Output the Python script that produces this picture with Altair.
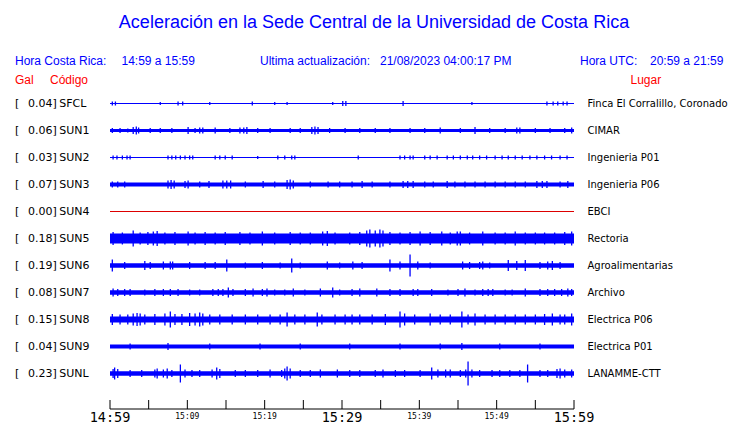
import altair as alt
import pandas as pd

# ---------------- data ----------------
codes = ["SFCL", "SUN1", "SUN2", "SUN3", "SUN4", "SUN5", "SUN6", "SUN7", "SUN8", "SUN9", "SUNL"]
gal = [0.04, 0.06, 0.03, 0.07, 0.00, 0.18, 0.19, 0.08, 0.15, 0.04, 0.23]
places = ["Finca El Corralillo, Coronado", "CIMAR", "Ingenieria P01", "Ingenieria P06", "EBCI",
          "Rectoria", "Agroalimentarias", "Archivo", "Electrica P06", "Electrica P01", "LANAMME-CTT"]
# steady half-thickness of each trace (display px)
base_amp = [0.5, 1.6, 0.5, 2.0, 0.5, 5.0, 2.2, 2.2, 3.0, 2.0, 2.2]

# bursts: minutes after 14:59 and half-amplitude (display px)
ev_SFCL_t = [0.3, 0.7, 6.5, 8.8, 9.4, 12.9, 18.4, 21.3, 22.9, 28.8, 30.1, 30.5, 37.9, 46.8, 56.5, 57.3, 57.9, 58.6, 59.1]
ev_SFCL_a = [2, 2, 1.5, 2, 2, 1.5, 2, 1.5, 1.5, 1.5, 2.5, 2.5, 2.5, 1.5, 2, 2, 2, 2, 2]

ev_SUN1_t = [0.3, 1.3, 2.3, 3.0, 3.4, 3.7, 5.2, 6.5, 8.0, 10.1, 11.0, 11.6, 12.0, 13.6, 15.5, 16.8, 17.3, 17.7,
             19.1, 20.7, 23.3, 24.6, 26.1, 26.5, 26.9, 28.4, 30.4, 32.3, 34.3, 36.2, 38.8, 40.7, 42.7, 45.3,
             47.2, 49.1, 51.1, 52.6, 53.0, 55.0, 56.9, 58.8, 59.7]
ev_SUN1_a = [2.5, 2.5, 2, 3.5, 4, 3, 2.5, 2.5, 2.5, 3.5, 2.5, 3, 3, 3, 2.5, 3, 3, 3.5,
             2.5, 2.5, 2.5, 2.5, 3.5, 4, 3.5, 2.5, 2.5, 2.5, 2.5, 2.5, 2.5, 2.5, 3, 2.5,
             3.5, 2.5, 2.5, 3, 3, 2.5, 2.5, 2.5, 3]

ev_SUN2_t = [0.4, 0.9, 1.6, 2.2, 2.6, 7.5, 8.0, 8.5, 9.1, 9.7, 10.3, 10.7, 13.6, 14.2, 14.9, 15.8, 19.1, 21.7,
             22.6, 23.5, 23.9, 32.1, 37.5, 38.1, 38.8, 39.2, 40.7, 41.4, 42.3, 43.6, 44.4, 45.3, 46.2, 46.9,
             47.8, 48.7, 49.8, 50.7, 51.5, 52.4, 53.3, 54.3, 55.2, 56.2, 57.1, 58.2, 59.1]
ev_SUN2_a = [2] * 16 + [1.5] + [2] * 30

ev_SUN3_t = [0.3, 1.0, 1.9, 7.5, 7.9, 8.3, 9.7, 10.1, 11.6, 12.8, 14.6, 15.1, 15.6, 17.5, 19.8, 21.3, 22.9,
             23.3, 23.7, 25.9, 28.2, 29.7, 31.3, 32.6, 33.9, 36.2, 37.9, 38.5, 39.2, 40.7, 41.8, 43.6, 44.6,
             45.9, 47.2, 48.5, 49.8, 51.1, 52.4, 53.7, 55.2, 55.9, 56.5, 58.2, 59.2]
ev_SUN3_a = [3, 3, 3, 4, 4.5, 4, 3.5, 4, 3, 3.5, 4, 4, 4, 3, 3.5, 3, 4.5,
             5, 4, 3, 3, 3, 3, 3.5, 3, 3, 3.5, 3.5, 3.5, 3, 3, 3.5, 3,
             3, 3, 3, 3, 3, 3, 3, 3.5, 3.5, 3.5, 3, 3.5]

ev_SUN4_t = []
ev_SUN4_a = []

ev_SUN5_t = [0.4, 1.6, 3.0, 3.9, 4.9, 5.6, 6.1, 7.1, 8.4, 10.1, 11.0, 12.3, 13.6, 14.9, 16.8, 18.1, 19.7,
             21.3, 23.3, 24.6, 25.9, 27.5, 28.1, 29.1, 31.0, 32.3, 33.2, 33.6, 34.3, 34.9, 35.3, 36.2, 37.5,
             38.8, 40.1, 41.4, 42.9, 44.0, 44.9, 45.3, 46.5, 48.2, 49.8, 51.1, 52.4, 53.7, 55.0, 56.2, 57.5,
             58.8, 59.7]
ev_SUN5_a = [6.5, 6, 8, 6, 6.5, 7, 7.5, 6, 6.5, 7, 6, 6.5, 6, 6.5, 6.5, 6, 7,
             6, 6.5, 6, 6, 7, 7.5, 6, 6, 6.5, 8, 9, 8, 9, 8, 6.5, 6,
             6.5, 7, 6.5, 7, 6, 7, 7, 6, 7, 6, 6, 7, 6, 6, 6, 6,
             6.5, 7]

ev_SUN6_t = [0.3, 1.9, 4.5, 5.2, 6.9, 7.8, 8.1, 10.3, 12.3, 13.6, 15.1, 17.5, 19.7, 22.0, 23.5, 24.6, 28.1,
             29.7, 31.4, 32.6, 36.2, 37.5, 38.8, 39.8, 41.4, 45.6, 46.5, 47.8, 48.2, 49.1, 51.5, 52.6, 53.7,
             55.6, 56.6, 57.2, 58.2]
ev_SUN6_a = [6, 3.5, 4.5, 3.5, 4, 4, 4, 3.5, 3.5, 3.5, 6, 3, 3.5, 3, 7, 3, 4,
             3, 4, 3.5, 6, 4, 11, 4, 3, 4, 3.5, 3.5, 4, 3, 5.5, 4.5, 5.5,
             3.5, 4, 4.5, 3.5]

ev_SUN7_t = [0.4, 1.0, 1.9, 2.6, 4.5, 5.8, 6.9, 7.8, 8.8, 10.3, 11.6, 13.3, 14.0, 14.6, 15.3, 15.9, 17.5,
             18.5, 19.7, 20.3, 21.3, 22.6, 23.7, 25.2, 27.2, 28.8, 29.7, 31.3, 32.3, 34.5, 36.2, 37.5, 39.2,
             39.8, 41.6, 43.7, 45.0, 45.9, 47.2, 48.2, 48.9, 49.5, 51.1, 52.0, 53.7, 55.6, 56.6, 57.5, 58.4,
             59.2, 59.7]
ev_SUN7_a = [4, 3.5, 3.5, 3.5, 3, 3.5, 3.5, 3.5, 3.5, 3, 3, 3.5, 3.5, 3.5, 5, 3.5, 3.5,
             4, 3.5, 4, 3, 3, 4, 3, 4, 5, 3, 3.5, 4, 4, 3.5, 3.5, 3.5,
             3.5, 3.5, 3, 3.5, 4, 3, 3.5, 3.5, 3.5, 3, 3, 4, 3.5, 3.5, 3.5, 3.5,
             4, 3.5]

ev_SUN8_t = [0.3, 1.3, 2.3, 3.0, 3.5, 3.9, 4.5, 5.8, 7.1, 7.8, 8.4, 9.3, 10.3, 11.0, 11.6, 12.0, 12.9,
             14.2, 15.8, 17.5, 19.1, 20.7, 22.0, 22.9, 23.9, 25.2, 26.8, 27.4, 29.1, 30.4, 31.3, 32.3, 33.9,
             35.6, 37.5, 38.1, 39.4, 41.4, 42.7, 44.0, 45.5, 46.3, 47.2, 48.5, 49.8, 51.1, 52.4, 53.7, 55.0,
             56.2, 57.2, 58.2, 58.8, 59.7]
ev_SUN8_a = [5.5, 5, 5, 6, 6.5, 6, 5, 5.5, 6, 8, 5.5, 5.5, 6.5, 6, 7, 6, 5,
             5, 5, 5, 5, 5, 5, 7, 5, 5, 7, 5, 5, 5, 5, 5, 5,
             5.5, 8, 6, 5, 6, 5, 5, 8, 5, 6, 5, 5, 5, 5, 5, 5,
             5.5, 6, 5, 5, 6]

ev_SUN9_t = [2.6, 7.5, 12.9, 19.4, 24.6, 31.0, 37.5, 42.7, 45.5, 50.4, 55.6]
ev_SUN9_a = [3, 3.5, 3, 3, 3, 3, 3, 3, 3.5, 3, 3]

ev_SUNL_t = [0.4, 0.6, 1.0, 2.6, 4.1, 5.8, 6.1, 6.9, 7.4, 8.0, 9.1, 9.7, 10.6, 11.6, 13.2, 13.8, 14.2,
             16.2, 17.5, 19.1, 20.7, 22.2, 22.6, 22.9, 23.3, 24.6, 25.9, 27.2, 29.4, 31.0, 32.3, 34.3, 35.3,
             36.9, 38.1, 40.1, 41.6, 42.4, 43.4, 44.0, 45.3, 46.0, 46.3, 46.8, 47.8, 49.4, 50.4, 51.7, 53.0,
             54.0, 55.6, 56.6, 57.8, 58.2, 58.8, 59.7]
ev_SUNL_a = [4.5, 6, 4.5, 3.5, 3.5, 4, 5, 4, 5, 3.5, 9, 4, 3.5, 3.5, 4, 6, 4.5,
             3.5, 3.5, 3.5, 4, 3.5, 5, 7, 5, 3.5, 3.5, 4, 4, 3.5, 3.5, 3.5, 4,
             3.5, 3.5, 3.5, 6, 4, 4, 4, 3.5, 4, 12, 4, 3.5, 3.5, 3.5, 3.5, 3.5,
             9, 3.5, 3.5, 4.5, 5, 4, 4]

tick_minutes = [0, 5, 10, 15, 20, 25, 30, 35, 40, 45, 50, 55, 60]
major_minutes = [0, 30, 60]
major_labels = ["14:59", "15:29", "15:59"]
minor_minutes = [10, 20, 40, 50]
minor_labels = ["15:09", "15:19", "15:39", "15:49"]

TITLE = "Aceleración en la Sede Central de la Universidad de Costa Rica"
HEADER_CR = "Hora Costa Rica:"
HEADER_CR_V = "14:59 a 15:59"
HEADER_UPD = "Ultima actualización:"
HEADER_UPD_V = "21/08/2023 04:00:17 PM"
HEADER_UTC = "Hora UTC:"
HEADER_UTC_V = "20:59 a 21:59"

# ---------------- build tables ----------------
SP = 27.0  # display px between traces
events = {
    "SFCL": (ev_SFCL_t, ev_SFCL_a), "SUN1": (ev_SUN1_t, ev_SUN1_a), "SUN2": (ev_SUN2_t, ev_SUN2_a),
    "SUN3": (ev_SUN3_t, ev_SUN3_a), "SUN4": (ev_SUN4_t, ev_SUN4_a), "SUN5": (ev_SUN5_t, ev_SUN5_a),
    "SUN6": (ev_SUN6_t, ev_SUN6_a), "SUN7": (ev_SUN7_t, ev_SUN7_a), "SUN8": (ev_SUN8_t, ev_SUN8_a),
    "SUN9": (ev_SUN9_t, ev_SUN9_a), "SUNL": (ev_SUNL_t, ev_SUNL_a),
}

traces = pd.DataFrame({
    "idx": list(range(len(codes))),
    "code": codes,
    "gal": [f"{g:.2f}]" for g in gal],
    "place": places,
    "t0": 0, "t1": 60,
    "lo": [i - b / SP for i, b in enumerate(base_amp)],
    "hi": [i + b / SP for i, b in enumerate(base_amp)],
})

rows = []
for i, c in enumerate(codes):
    ts, amps = events[c]
    for t, a in zip(ts, amps):
        rows.append({"code": c, "t": t, "lo": i - a / SP, "hi": i + a / SP})
ev = pd.DataFrame(rows)

xs = alt.Scale(domain=[0, 60], range=[102, 566])
ys = alt.Scale(domain=[0, 10], range=[95.5, 365.5])

BLUE = "#0000ff"
RED = "#ff0000"
col = alt.condition(alt.datum.code == "SUN4", alt.value("#dd0000"), alt.value(BLUE))

band = alt.Chart(traces).mark_rect().encode(
    x=alt.X("t0:Q", scale=xs, axis=None), x2="t1",
    y=alt.Y("lo:Q", scale=ys, axis=None), y2="hi",
    color=col,
)
spikes = alt.Chart(ev).mark_rule(strokeWidth=1.3).encode(
    x=alt.X("t:Q", scale=xs, axis=None),
    y=alt.Y("lo:Q", scale=ys, axis=None), y2="hi",
    color=col,
)

lab_font = "DejaVu Sans"
brackets = alt.Chart(traces).mark_text(align="left", baseline="middle", font=lab_font, fontSize=11, color="black").encode(
    y=alt.Y("idx:Q", scale=ys, axis=None), x=alt.value(7), text=alt.value("["))
galtxt = alt.Chart(traces).mark_text(align="right", baseline="middle", font=lab_font, fontSize=11, color="black").encode(
    y=alt.Y("idx:Q", scale=ys, axis=None), x=alt.value(48.8), text="gal:N")
codetxt = alt.Chart(traces).mark_text(align="left", baseline="middle", font=lab_font, fontSize=11, color="black").encode(
    y=alt.Y("idx:Q", scale=ys, axis=None), x=alt.value(51.3), text="code:N")
placetxt = alt.Chart(traces).mark_text(align="left", baseline="middle", font=lab_font, fontSize=10, color="black").encode(
    y=alt.Y("idx:Q", scale=ys, axis=None), x=alt.value(579.5), text="place:N")

# time axis
tk = pd.DataFrame({"t": tick_minutes})
axis_line = alt.Chart(pd.DataFrame({"a": [0], "b": [60]})).mark_rule(color="black", strokeWidth=1).encode(
    x=alt.X("a:Q", scale=xs, axis=None), x2="b", y=alt.value(401))
ticks = alt.Chart(tk).mark_rule(color="black", strokeWidth=1).encode(
    x=alt.X("t:Q", scale=xs, axis=None), y=alt.value(392), y2=alt.value(401))
major = alt.Chart(pd.DataFrame({"t": major_minutes, "l": major_labels})).mark_text(
    align="center", baseline="alphabetic", font="DejaVu Sans Mono", fontSize=13.5, color="black").encode(
    x=alt.X("t:Q", scale=xs, axis=None), y=alt.value(413.5), text="l:N")
minor = alt.Chart(pd.DataFrame({"t": minor_minutes, "l": minor_labels})).mark_text(
    align="center", baseline="alphabetic", font="DejaVu Sans Mono", fontSize=8, color="black").encode(
    x=alt.X("t:Q", scale=xs, axis=None), y=alt.value(411), text="l:N")


def txt(s, x, y, color=BLUE, size=12, align="left", font="Liberation Sans"):
    return alt.Chart(pd.DataFrame({"s": [s]})).mark_text(
        align=align, baseline="alphabetic", font=font, fontSize=size, color=color).encode(
        x=alt.value(x), y=alt.value(y), text="s:N")


texts = [
    txt(TITLE, 366, 20, size=18, align="center"),
    txt(HEADER_CR, 7, 57), txt(HEADER_CR_V, 113.5, 57),
    txt(HEADER_UPD, 252, 57), txt(HEADER_UPD_V, 372, 57),
    txt(HEADER_UTC, 572, 57), txt(HEADER_UTC_V, 642, 57),
    txt("Gal", 7, 76, color=RED), txt("Código", 42, 76, color=RED), txt("Lugar", 622.5, 76, color=RED),
]

chart = alt.layer(
    band, spikes, brackets, galtxt, codetxt, placetxt, axis_line, ticks, major, minor, *texts
).properties(
    width=724, height=415, padding=0, autosize=alt.AutoSizeParams(type="none")
).configure_view(stroke=None)

chart.save("out.html", embed_options={"renderer": "svg", "actions": False})
